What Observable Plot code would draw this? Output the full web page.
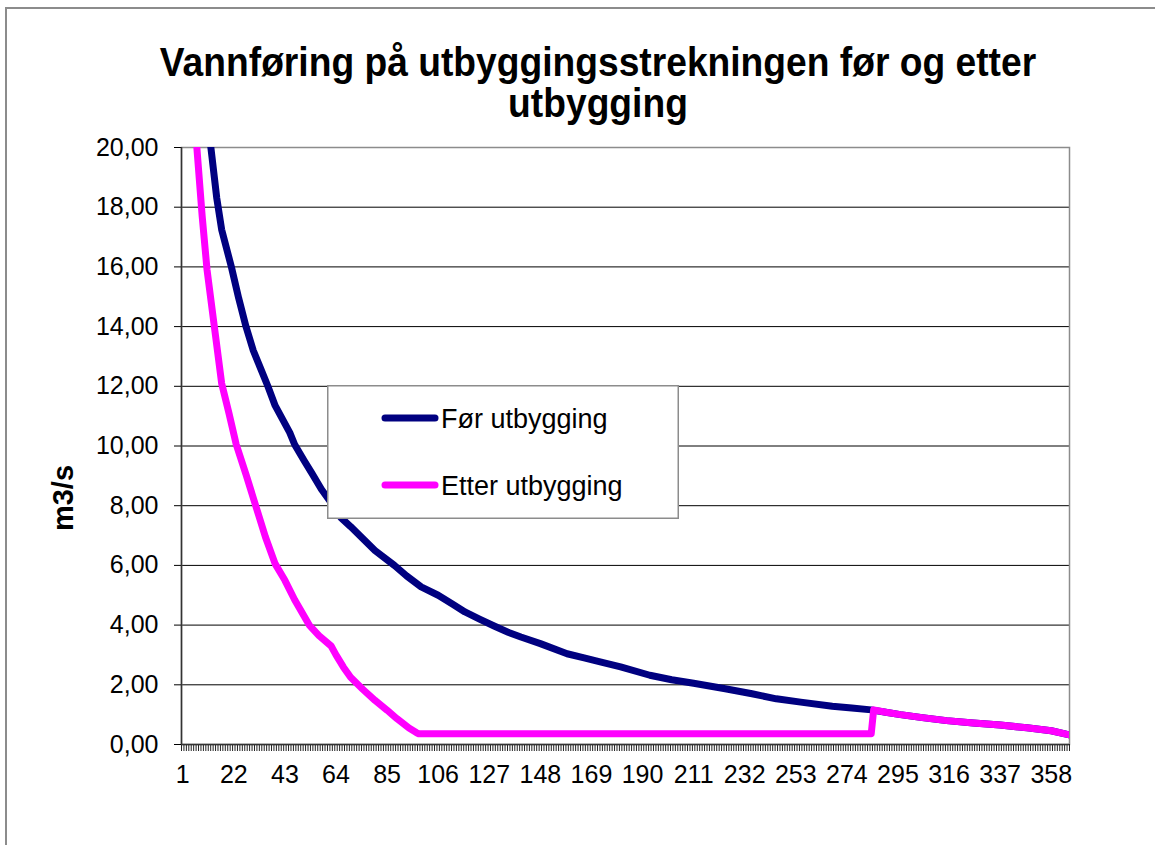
<!DOCTYPE html>
<html>
<head>
<meta charset="utf-8">
<script src="https://cdn.jsdelivr.net/npm/d3@7"></script>
<script src="https://cdn.jsdelivr.net/npm/@observablehq/plot@0.6"></script>
<style>
  html, body { margin: 0; padding: 0; background: #fff; }
  #page { position: relative; width: 1155px; height: 845px; overflow: hidden; font-family: "Liberation Sans", Arial, sans-serif; }
  #frame { position: absolute; left: 5px; top: 7px; width: 1200px; height: 900px; border-left: 2px solid #8c8c8c; border-top: 2px solid #8c8c8c; }
  #chart { position: absolute; left: 0; top: 0; }
  #title { position: absolute; left: 598px; top: 42px; transform: translateX(-50%) scaleX(0.93); text-align: center; font-weight: bold; font-size: 40px; line-height: 41px; white-space: nowrap; color: #000; }
  #ylabel { position: absolute; left: 63px; top: 498px; transform: translate(-50%, -50%) rotate(-90deg); font-weight: bold; font-size: 29px; white-space: nowrap; color: #000; }
  #legend { position: absolute; left: 327px; top: 385px; }
</style>
</head>
<body>
<div id="page">
  <div id="frame"></div>
  <div id="chart"></div>
  <div id="title">Vannføring på utbyggingsstrekningen før og etter<br>utbygging</div>
  <div id="ylabel">m3/s</div>
  <svg id="legend" width="353" height="135"></svg>
</div>
<script>
// ---- data ----
const seriesNames = ["Før utbygging", "Etter utbygging"];
const seriesColors = ["#000080", "#FF00FF"];

const forDays = [11, 13, 15, 17, 21, 24, 27, 30, 33, 36, 39, 42, 45, 47, 51, 54, 58, 62, 66, 70, 75, 80, 88, 93, 99, 106, 112, 117, 123, 129, 135, 140, 148, 159, 166, 173, 181, 193, 202, 211, 224, 235, 245, 255, 268, 276, 284, 290, 296, 305, 315, 326, 337, 348, 358, 365];
const forValues = [21.1, 19.7, 18.3, 17.25, 16.0, 14.95, 14.0, 13.2, 12.6, 12.0, 11.35, 10.9, 10.45, 10.05, 9.5, 9.1, 8.55, 8.1, 7.6, 7.3, 6.9, 6.5, 6.0, 5.65, 5.28, 5.0, 4.7, 4.44, 4.2, 3.97, 3.75, 3.6, 3.38, 3.04, 2.9, 2.76, 2.6, 2.32, 2.17, 2.05, 1.87, 1.7, 1.53, 1.42, 1.28, 1.22, 1.16, 1.08, 1.0, 0.9, 0.8, 0.72, 0.65, 0.56, 0.46, 0.33];

const etterDays = [6, 7, 9, 11, 14, 17, 20, 23, 27, 31, 35, 39, 43, 47, 53, 57, 62, 64, 67, 70, 75, 80, 85, 89, 94, 97, 98, 284, 285, 290, 296, 305, 315, 326, 337, 348, 358, 365];
const etterValues = [20.9, 19.8, 17.7, 15.9, 14.0, 12.1, 11.1, 10.05, 9.05, 8.0, 6.95, 6.05, 5.5, 4.85, 4.0, 3.65, 3.3, 3.0, 2.6, 2.25, 1.85, 1.48, 1.15, 0.87, 0.55, 0.4, 0.36, 0.36, 1.16, 1.08, 1.0, 0.9, 0.8, 0.72, 0.65, 0.56, 0.46, 0.33];

const yTicks = [0, 2, 4, 6, 8, 10, 12, 14, 16, 18, 20];
const xTickLabels = [1, 22, 43, 64, 85, 106, 127, 148, 169, 190, 211, 232, 253, 274, 295, 316, 337, 358];
const dayCount = 365;

// ---- build tables ----
const forData = forDays.map((d, i) => ({day: d, value: forValues[i]}));
const etterData = etterDays.map((d, i) => ({day: d, value: etterValues[i]}));
const categoryEdges = d3.range(0, dayCount + 1).map(i => i + 0.5);

const plot = Plot.plot({
  width: 1155,
  height: 845,
  marginLeft: 181,
  marginRight: 86,
  marginTop: 147,
  marginBottom: 101,
  style: {fontFamily: "'Liberation Sans', Arial, sans-serif", fontSize: "25px", color: "#000", background: "transparent", overflow: "visible"},
  x: {domain: [0.5, dayCount + 0.5], label: null},
  y: {domain: [0, 20], label: null},
  marks: [
    Plot.gridY(yTicks, {stroke: "#000", strokeOpacity: 1, strokeWidth: 1}),
    Plot.frame({stroke: "#8c8c8c", strokeWidth: 1.5}),
    Plot.axisY(yTicks, {tickSize: 7, tickPadding: 16, tickFormat: d => d.toFixed(2).replace(".", ","), label: null, fontSize: 25}),
    Plot.axisX(xTickLabels, {tickSize: 0, tickPadding: 21, label: null, fontSize: 25}),
    Plot.axisX(categoryEdges, {tickSize: 7, tickFormat: () => "", label: null, stroke: "#222", strokeWidth: 1}),
    Plot.ruleX([0.5], {stroke: "#333", strokeWidth: 1.5}),
    Plot.ruleY([0], {stroke: "#333", strokeWidth: 1.5}),
    Plot.line(forData, {x: "day", y: "value", stroke: seriesColors[0], strokeWidth: 7, strokeLinejoin: "round", strokeLinecap: "round", clip: true}),
    Plot.line(etterData, {x: "day", y: "value", stroke: seriesColors[1], strokeWidth: 7, strokeLinejoin: "round", strokeLinecap: "round", clip: true})
  ]
});
document.getElementById("chart").appendChild(plot);

// ---- legend ----
const lg = d3.select("#legend");
lg.append("rect").attr("x", 0.75).attr("y", 0.75).attr("width", 350.5).attr("height", 132.5)
  .attr("fill", "#fff").attr("stroke", "#8c8c8c").attr("stroke-width", 1.5);
seriesNames.forEach((name, i) => {
  const cy = 33 + i * 67;
  lg.append("line").attr("x1", 58).attr("x2", 108).attr("y1", cy).attr("y2", cy)
    .attr("stroke", seriesColors[i]).attr("stroke-width", 7).attr("stroke-linecap", "round");
  lg.append("text").attr("x", 114).attr("y", cy + 9.5)
    .attr("font-family", "'Liberation Sans', Arial, sans-serif").attr("font-size", 27)
    .attr("fill", "#000").text(name);
});
</script>
</body>
</html>
